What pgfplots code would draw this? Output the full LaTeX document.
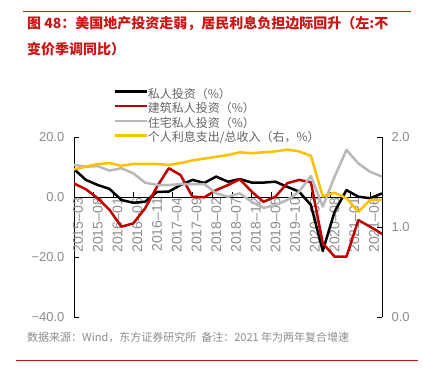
\documentclass[border=0pt]{standalone}
\usepackage{fontspec}
\setmainfont{Liberation Sans}
\newfontfamily\cjk{Noto Sans CJK SC}
\usepackage{pgfplots}
\pgfplotsset{compat=1.18}
\definecolor{tred}{RGB}{204,20,20}
\definecolor{sred}{RGB}{192,0,0}
\definecolor{sgray}{RGB}{184,184,184}
\definecolor{syel}{RGB}{255,192,0}
\definecolor{lbl}{RGB}{140,140,140}
\definecolor{leg}{RGB}{100,100,100}
\pgfplotstableread{
m black red gray
0 9.3 4.5 10.7
3 5.7 2.6 10.1
6 4.0 -0.4 10.3
9 2.7 -4.3 8.8
12 -1.0 -9.9 9.6
15 -1.9 -8.8 7.9
18 -1.6 -3.8 4.8
21 1.7 3.4 4.0
24 1.8 9.6 4.0
27 4.0 7.3 4.3
30 5.7 0.1 4.3
33 4.7 -0.1 4.3
36 6.8 2.3 1.2
39 5.1 4.0 0.1
42 6.0 5.9 1.2
45 4.8 1.8 -1.6
48 4.8 -1.6 -3.6
51 5.1 0.1 -2.7
54 3.4 4.6 -1.0
57 1.8 5.7 1.8
60 -2.7 4.9 7.0
63 -18.0 -15.4 -3.2
66 -4.9 -19.9 6.8
69 2.3 -19.9 15.7
72 0.1 -7.7 11.2
75 -0.4 -9.9 8.4
78 1.2 -12.3 6.8
}\leftdata
\pgfplotstableread{
m yel
0 1.64
3 1.67
6 1.70
9 1.71
12 1.68
15 1.70
18 1.70
21 1.70
24 1.69
27 1.71
30 1.74
33 1.76
36 1.78
39 1.80
42 1.83
45 1.82
48 1.83
51 1.84
54 1.86
57 1.84
60 1.79
63 1.34
66 1.38
69 1.32
72 1.17
75 1.30
78 1.30
}\rightdata
\begin{document}
\begin{tikzpicture}[x=1pt,y=1pt]
\useasboundingbox (0,0) rectangle (423,385);
\draw[tred,line width=0.9pt] (23,374) -- (411,374);
\node[anchor=west,inner sep=0pt,text=tred,font=\cjk\bfseries\fontsize{14}{14}\selectfont] at (27,361) {图 48：美国地产投资走弱，居民利息负担边际回升（左:不};
\node[anchor=west,inner sep=0pt,text=tred,font=\cjk\bfseries\fontsize{14}{14}\selectfont] at (27,336) {变价季调同比）};
\node[anchor=west,inner sep=0pt,text=lbl,font=\cjk\fontsize{11}{11}\selectfont] at (27,48) {数据来源：Wind，东方证券研究所\ \ 备注：2021 年为两年复合增速};
\draw[tred,line width=0.9pt] (16,25) -- (418,25);
\begin{axis}[at={(74pt,68pt)}, anchor=south west, scale only axis,
  width=308pt, height=180pt,
  xmin=0, xmax=78, ymin=-40, ymax=20,
  axis x line=middle, axis y line=left,
  axis line style={-, black, line width=0.8pt},
  hide obscured x ticks=false, hide obscured y ticks=false,
  xtick={0,5,...,75},
  xticklabels={2015–03,2015–08,2016–01,2016–06,2016–11,2017–04,2017–09,2018–02,2018–07,2018–12,2019–05,2019–10,2020–03,2020–08,2021–01,2021–06},
  xticklabel style={rotate=90, anchor=east, font=\fontsize{14}{14}\selectfont, text=lbl, inner sep=1pt, yshift=-4pt},
  ytick={-40,-20,0,20},
  yticklabels={−40.0,−20.0,0.0,20.0},
  yticklabel style={font=\fontsize{13}{13}\selectfont, text=lbl, xshift=-6pt},
  tick align=inside, major tick length=5pt,
  tick style={black, line width=0.8pt},
  every axis plot/.append style={line width=2.5pt, line join=round},
]
\addplot[black, no marks] table[x=m, y=black] {\leftdata};
\addplot[sred, no marks] table[x=m, y=red] {\leftdata};
\addplot[sgray, no marks] table[x=m, y=gray] {\leftdata};
\end{axis}
\begin{axis}[at={(74pt,68pt)}, anchor=south west, scale only axis,
  width=308pt, height=180pt,
  xmin=0, xmax=78, ymin=0, ymax=2,
  axis x line=none, axis y line=right,
  axis line style={-, black, line width=0.8pt},
  ytick={0,1,2}, yticklabels={0.0,1.0,2.0},
  yticklabel style={font=\fontsize{13}{13}\selectfont, text=lbl, xshift=6pt},
  tick align=inside, major tick length=5pt,
  tick style={black, line width=0.8pt},
  every axis plot/.append style={line width=2.5pt, line join=round},
  legend style={at={(0.127,1.267)}, anchor=north west, draw=none, fill=none,
    font=\cjk\fontsize{12}{12}\selectfont, text=leg, row sep=3.6pt, inner sep=0pt,
    nodes={inner sep=0pt, text height=9pt, text depth=2pt},
    /tikz/every even column/.append style={column sep=3pt}},
  legend cell align=left,
  legend image code/.code={\draw[#1] (0pt,3pt) -- (32pt,3pt);},
]
\addlegendimage{black, line width=2.5pt}
\addlegendentry{私人投资（\%）}
\addlegendimage{sred, line width=2.5pt}
\addlegendentry{建筑私人投资（\%）}
\addlegendimage{sgray, line width=2.5pt}
\addlegendentry{住宅私人投资（\%）}
\addplot[syel, no marks] table[x=m, y=yel] {\rightdata};
\addlegendentry{个人利息支出/总收入（右，\%）}
\end{axis}
\end{tikzpicture}
\end{document}
